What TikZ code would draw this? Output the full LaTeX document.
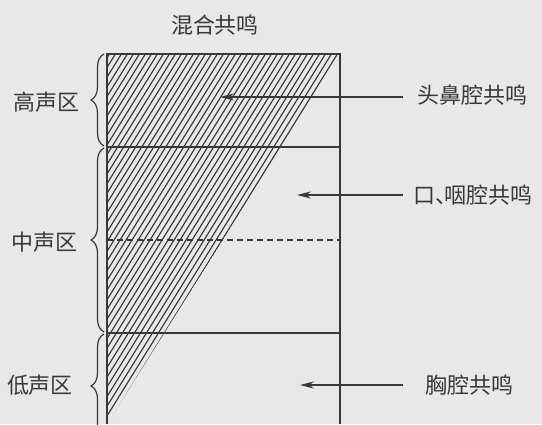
\documentclass[tikz,border=0pt]{standalone}
\usepackage{fontspec}
\newfontfamily\cjk{Noto Sans CJK SC}
\usetikzlibrary{decorations.pathreplacing,arrows.meta}
\definecolor{bg}{HTML}{E8E8E8}
\definecolor{ink}{HTML}{383838}
\begin{document}
\begin{tikzpicture}[x=1pt,y=1pt,
  lbl/.style={font=\cjk\fontsize{22}{24}\selectfont, text=ink, inner sep=0pt},
  boxline/.style={draw=ink, line width=1.6pt},
  hatchline/.style={draw=ink, line width=1.15pt},
  bracestyle/.style={draw=ink, line width=1.2pt, decorate, decoration={brace, amplitude=13pt}},
  pointer/.style={draw=ink, line width=1.3pt, -{Stealth[length=14pt,width=7pt]}}]
\fill[bg] (0,0) rectangle (542,424);
\useasboundingbox (0,0) rectangle (542,424);
% hatch
\begin{scope}
\clip (107,370) -- (340,370) -- (107,0) -- cycle;
\foreach \x in {-120,-114,...,346} {
  \draw[hatchline] (\x,0) -- ({\x+0.62*424},424);
}
\end{scope}
% box
\coordinate (tl) at (107,370);
\coordinate (tr) at (340,370);
\coordinate (bl) at (107,0);
\coordinate (br) at (340,0);
\draw[boxline] (bl) -- (tl) -- (tr) -- (br);
\coordinate (h1l) at (107,277); \coordinate (h1r) at (340,277);
\coordinate (h2l) at (107,91); \coordinate (h2r) at (340,91);
\coordinate (dl) at (107,184); \coordinate (dr) at (340,184);
\draw[boxline] (h1l) -- (h1r);
\draw[boxline] (h2l) -- (h2r);
\draw[draw=ink, line width=1.3pt, dash pattern=on 6pt off 4pt] (dl) -- (dr);
% braces
\coordinate (b1a) at (104,278); \coordinate (b1b) at (104,370);
\coordinate (b2a) at (104,92); \coordinate (b2b) at (104,276);
\coordinate (b3a) at (104,-14); \coordinate (b3b) at (104,90);
\draw[bracestyle] (b1a) -- (b1b);
\draw[bracestyle] (b2a) -- (b2b);
\draw[bracestyle] (b3a) -- (b3b);
% labels
\node[lbl] (title) at (215,399) {混合共鸣};
\node[lbl] (high) at (46,322) {高声区};
\node[lbl] (mid) at (45,182) {中声区};
\node[lbl] (low) at (40,39) {低声区};
\node[lbl, anchor=west] (head) at (417,329) {头鼻腔共鸣};
\node[lbl, anchor=west] (mouth) at (413,229) {口\makebox[0.42em][l]{、}咽腔共鸣};
\node[lbl, anchor=west] (chest) at (425,39) {胸腔共鸣};
% arrows
\coordinate (t1) at (220,327);
\coordinate (t2) at (297,229);
\coordinate (t3) at (300,39);
\draw[pointer] (head.west |- t1) ++(-14,0) -- (t1);
\draw[pointer] (mouth.west |- t2) ++(-10,0) -- (t2);
\draw[pointer] (chest.west |- t3) ++(-22,0) -- (t3);
\end{tikzpicture}
\end{document}
